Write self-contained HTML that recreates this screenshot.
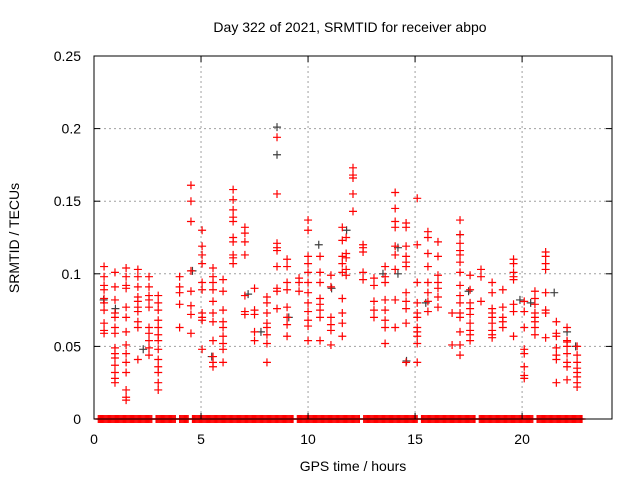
<!DOCTYPE html>
<html><head><meta charset="utf-8"><style>
body{margin:0;background:#fff;width:640px;height:480px;overflow:hidden}
svg text{font-family:"Liberation Sans",sans-serif;font-size:14px;fill:#000}
</style></head><body>
<svg id="chart" width="640" height="480" viewBox="0 0 640 480" xmlns="http://www.w3.org/2000/svg">
<rect width="640" height="480" fill="#fff"/>
<g id="grid"></g>
<g id="zero"></g>
<g id="gray"></g>
<g id="red"></g>
<rect x="94" y="56" width="518" height="363" fill="none" stroke="#000" stroke-width="1"/>
<g id="ticks"></g>
<text x="350" y="32" text-anchor="middle">Day 322 of 2021, SRMTID for receiver abpo</text>
<text x="353" y="471" text-anchor="middle">GPS time / hours</text>
<text transform="translate(19,238) rotate(-90)" text-anchor="middle">SRMTID / TECUs</text>
</svg>
<script>
const xTicks=[0,5,10,15,20];
const yTicks=[0,0.05,0.1,0.15,0.2,0.25];
const yTickLabels=["0","0.05","0.1","0.15","0.2","0.25"];
const redTimes=[0.47,0.98,1.5,2.05,2.57,3.0,4.0,4.53,5.05,5.56,6.03,6.5,7.05,7.5,8.08,8.55,9.02,9.58,10.0,10.56,11.07,11.6,11.78,12.1,12.57,13.08,13.6,14.07,14.58,15.1,15.6,16.07,16.73,17.1,17.57,18.08,18.6,19.1,19.6,20.1,20.6,21.1,21.6,22.1,22.57];
const redValues=[
[0.105,0.098,0.092,0.089,0.083,0.080,0.075,0.066,0.061,0.059],
[0.101,0.091,0.082,0.073,0.070,0.063,0.059,0.049,0.045,0.042,0.037,0.032,0.028,0.025],
[0.104,0.098,0.092,0.090,0.077,0.070,0.060,0.051,0.045,0.039,0.032,0.020,0.015,0.013],
[0.103,0.098,0.091,0.084,0.081,0.077,0.074,0.067,0.063,0.041],
[0.098,0.091,0.085,0.082,0.077,0.063,0.059,0.054,0.049,0.044],
[0.085,0.080,0.075,0.068,0.063,0.058,0.054,0.048,0.041,0.036,0.032,0.025,0.020],
[0.098,0.091,0.087,0.079,0.063],
[0.161,0.150,0.136,0.102,0.088,0.078,0.072,0.059],
[0.130,0.119,0.113,0.107,0.094,0.089,0.073,0.070,0.068,0.048],
[0.104,0.098,0.094,0.089,0.081,0.073,0.067,0.054,0.043,0.039,0.036],
[0.096,0.088,0.075,0.067,0.063,0.057,0.052,0.048,0.039],
[0.158,0.151,0.144,0.139,0.136,0.125,0.122,0.113,0.111,0.107],
[0.132,0.128,0.122,0.113,0.085,0.074,0.072],
[0.090,0.075,0.072,0.060,0.054],
[0.084,0.080,0.073,0.066,0.063,0.058,0.052,0.039],
[0.194,0.155,0.121,0.118,0.116,0.105,0.090,0.088,0.076],
[0.110,0.105,0.094,0.089,0.077,0.070,0.065,0.057],
[0.097,0.094,0.088],
[0.137,0.130,0.112,0.107,0.101,0.094,0.087,0.080,0.074,0.068,0.064,0.054],
[0.112,0.101,0.094,0.083,0.079,0.075,0.070,0.054],
[0.099,0.091,0.070,0.065,0.061,0.051],
[0.132,0.123,0.112,0.107,0.101,0.083,0.073,0.066,0.057],
[0.125,0.114,0.111,0.103,0.099],
[0.173,0.168,0.166,0.155,0.143],
[0.120,0.118,0.115,0.101,0.096],
[0.097,0.092,0.081,0.075,0.070],
[0.105,0.098,0.094,0.082,0.075,0.068,0.063,0.052],
[0.156,0.145,0.136,0.132,0.119,0.113,0.103,0.082,0.063],
[0.135,0.132,0.119,0.112,0.108,0.105,0.087,0.081,0.076,0.066,0.039],
[0.152,0.120,0.094,0.080,0.073,0.070,0.063,0.060,0.057,0.052,0.039],
[0.129,0.125,0.114,0.105,0.094,0.087,0.081,0.074],
[0.122,0.112,0.099,0.094,0.090,0.084,0.077],
[0.073,0.051],
[0.137,0.127,0.121,0.116,0.113,0.108,0.101,0.092,0.085,0.080,0.073,0.070,0.060,0.051,0.044],
[0.099,0.089,0.080,0.076,0.072,0.066,0.061,0.058,0.054],
[0.103,0.098,0.081],
[0.094,0.087,0.076,0.073,0.070,0.066,0.061,0.058,0.056],
[0.089,0.077,0.070,0.067,0.063],
[0.110,0.107,0.101,0.098,0.096,0.079,0.074,0.057],
[0.081,0.074,0.063,0.048,0.045,0.036,0.030,0.028],
[0.088,0.083,0.079,0.073,0.070,0.067,0.063,0.058],
[0.115,0.112,0.107,0.103,0.087,0.075,0.073,0.056],
[0.067,0.059,0.057,0.049,0.044,0.041,0.025],
[0.063,0.054,0.053,0.050,0.045,0.039,0.036,0.027],
[0.050,0.044,0.039,0.035,0.032,0.029,0.025,0.022]];
const grayTimes=[0.45,1.0,2.3,4.6,5.5,7.2,7.8,8.55,8.55,9.1,10.5,11.1,11.8,13.5,14.2,14.2,14.6,15.5,17.1,17.5,19.9,20.4,21.5,22.1,22.5];
const grayValues=[0.082,0.076,0.048,0.102,0.043,0.086,0.060,0.201,0.182,0.070,0.120,0.090,0.130,0.100,0.118,0.100,0.040,0.080,0.127,0.088,0.082,0.080,0.087,0.060,0.050];
const zeroSegStart=[0.2,2.9,4.0,4.6,9.5,12.6,15.3,18.0,20.7];
const zeroSegEnd=[2.7,3.8,4.4,9.3,12.4,15.1,17.8,20.5,22.8];

const X0=94,X1=612,Y0=419,Y1=56,XMAX=24.2,YMAX=0.25;
const sx=v=>X0+(X1-X0)*v/XMAX, sy=v=>Y0-(Y0-Y1)*v/YMAX;
const NS="http://www.w3.org/2000/svg";
function mk(tag,attrs,parent){const e=document.createElementNS(NS,tag);for(const k in attrs)e.setAttribute(k,attrs[k]);parent.appendChild(e);return e;}
const grid=document.getElementById('grid'),ticks=document.getElementById('ticks');
xTicks.forEach(t=>{const x=sx(t);
 if(t>0){const g=mk('line',{x1:x,x2:x,y1:Y1,y2:Y0,stroke:'#a0a0a0','stroke-dasharray':'2,3'},grid);
 
 }
 mk('line',{x1:x,x2:x,y1:Y0,y2:Y0-6,stroke:'#000'},ticks);
 mk('line',{x1:x,x2:x,y1:Y1,y2:Y1+6,stroke:'#000'},ticks);
 const tx=mk('text',{x:x,y:Y0+25,'text-anchor':'middle'},ticks);tx.textContent=t;
 
 
});
yTicks.forEach((t,i)=>{const y=sy(t);
 if(t>0&&t<YMAX){const g=mk('line',{x1:X0,x2:X1,y1:y,y2:y,stroke:'#a0a0a0','stroke-dasharray':'2,3'},grid);
 
 }
 mk('line',{x1:X0,x2:X0+6,y1:y,y2:y,stroke:'#000'},ticks);
 mk('line',{x1:X1,x2:X1-6,y1:y,y2:y,stroke:'#000'},ticks);
 const tx=mk('text',{x:X0-13,y:y+5,'text-anchor':'end'},ticks);tx.textContent=yTickLabels[i];
 
 
});
function plus(g,x,y,c){const p=mk('path',{d:`M${x-4},${y}H${x+4}M${x},${y-4}V${y+4}`,stroke:c,'stroke-width':1.2,fill:'none'},g);return p;}
const red=document.getElementById('red'),gray=document.getElementById('gray'),zero=document.getElementById('zero');
grayTimes.forEach((t,i)=>{const p=plus(gray,sx(t),sy(grayValues[i]),'#404040');
 
 });
redTimes.forEach((t,i)=>redValues[i].forEach(v=>{const p=plus(red,sx(t),sy(v),'#ff0000');
 
 }));
zeroSegStart.forEach((s,i)=>{for(let t=s;t<=zeroSegEnd[i]+1e-9;t+=0.05){const p=plus(zero,sx(t),sy(0),'#ff0000');
 
 }});
</script>
</body></html>
